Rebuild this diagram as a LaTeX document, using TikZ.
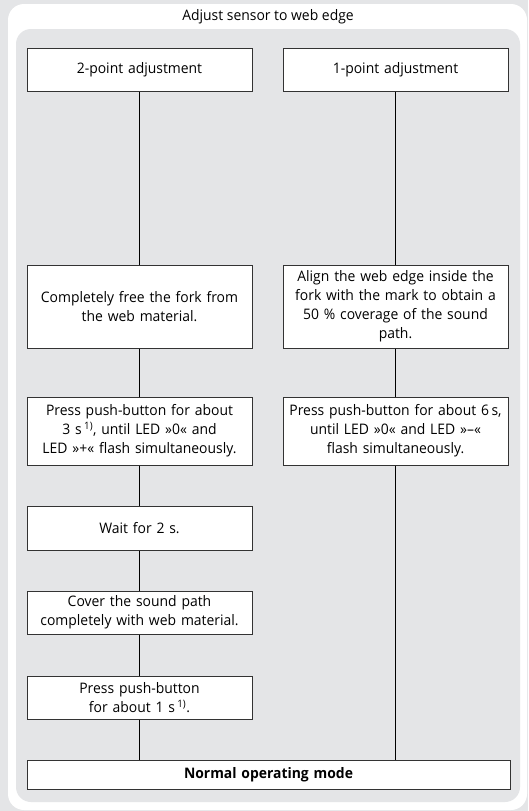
\documentclass[tikz,border=0pt]{standalone}
\usepackage{fontspec}
\setmainfont[FakeStretch=0.96]{Open Sans}
\definecolor{bggray}{HTML}{E4E5E7}
\definecolor{linegray}{HTML}{333333}
\begin{document}
\begin{tikzpicture}[x=1pt,y=-1pt,
  stepbox/.style={draw=linegray,line width=1pt,fill=white,minimum width=225pt,text width=224pt,align=center,inner sep=0pt,font=\fontsize{14.5}{19}\selectfont},
  conn/.style={draw=black,line width=0.8pt}]
\fill[bggray] (0,0) rectangle (528,811);
\useasboundingbox (0,0) rectangle (528,811);
\fill[white,rounded corners=16pt] (8,4) rectangle (527,810);
\fill[bggray,rounded corners=15pt] (16,29) rectangle (520,802);
\node[font=\fontsize{14.5}{17}\selectfont] (title) at (268,16.5) {Adjust sensor to web edge};
\node[stepbox,minimum height=43pt] (tp) at (139.5,69.5) {2-point adjustment};
\node[stepbox,minimum height=43pt] (op) at (395.5,69.5) {1-point adjustment};
\node[stepbox,minimum height=83pt] (free) at (139.5,306.5) {Completely free the fork from\\the web material.};
\node[stepbox,minimum height=83pt] (align) at (395.5,306.5) {Align the web edge inside the\\fork with the mark to obtain a\\50 \% coverage of the sound\\path.};
\node[stepbox,minimum height=68pt] (p3) at (139.5,431) {Press push-button for about\\3 s\,\textsuperscript{1)}, until LED »0« and\\LED »+« flash simultaneously.};
\node[stepbox,minimum height=68pt] (p6) at (395.5,431) {Press push-button for about 6\,s,\\until LED »0« and LED »–«\\flash simultaneously.};
\node[stepbox,minimum height=44pt] (wait) at (139.5,528) {Wait for 2 s.};
\node[stepbox,minimum height=43pt] (cover) at (139.5,612.5) {Cover the sound path\\completely with web material.};
\node[stepbox,minimum height=43pt] (p1) at (139.5,697.5) {Press push-button\\for about 1 s\,\textsuperscript{1)}.};
\node[stepbox,minimum height=29pt,minimum width=483pt,text width=470pt,font=\fontsize{14.5}{17}\selectfont\bfseries] (normal) at (268.5,774.5) {Normal operating mode};
\draw[conn] (tp) -- (free);
\draw[conn] (free) -- (p3);
\draw[conn] (p3) -- (wait);
\draw[conn] (wait) -- (cover);
\draw[conn] (cover) -- (p1);
\draw[conn] (p1.south) -- (p1.south |- normal.north);
\draw[conn] (op) -- (align);
\draw[conn] (align) -- (p6);
\draw[conn] (p6.south) -- (p6.south |- normal.north);
\end{tikzpicture}
\end{document}
